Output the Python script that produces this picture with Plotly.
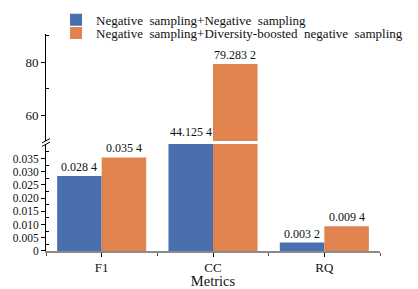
import plotly.graph_objects as go

categories = ["F1", "CC", "RQ"]
series_names = [
    "Negative\u00a0 sampling+Negative\u00a0 sampling",
    "Negative\u00a0 sampling+Diversity-boosted\u00a0 negative\u00a0 sampling",
]
series_a = [0.0284, 44.1254, 0.0032]
series_b = [0.0354, 79.2832, 0.0094]
lower_ticks = [0, 0.005, 0.010, 0.015, 0.020, 0.025, 0.030, 0.035]
lower_ticktext = ["0", "0.005", "0.010", "0.015", "0.020", "0.025", "0.030", "0.035"]
upper_ticks = [60, 80]

colors = ["#4a6fae", "#e0834f"]
FONT = "Liberation Serif"
LOW_MAX = 0.0405
UP_MIN, UP_MAX = 50.2, 90.6


def fmt(v):
    s = f"{v:.4f}"
    ip, dp = s.split(".")
    groups = [dp[i:i + 3] for i in range(0, len(dp), 3)]
    return ip + "." + " ".join(groups)


xs = list(range(len(categories)))
legend_ids = ["legend", "legend2"]
fig = go.Figure()
for k, (name, vals) in enumerate(zip(series_names, [series_a, series_b])):
    fig.add_trace(go.Bar(x=xs, y=vals, name=name, marker_color=colors[k],
                         marker_line_width=0, yaxis="y", legend=legend_ids[k],
                         offsetgroup=str(k)))
    fig.add_trace(go.Bar(x=xs, y=vals, name=name, marker_color=colors[k],
                         marker_line_width=0, yaxis="y2", legend=legend_ids[k],
                         showlegend=False, offsetgroup=str(k)))

annotations = []
for k, vals in enumerate([series_a, series_b]):
    off = -0.2 if k == 0 else 0.2
    for i, v in enumerate(vals):
        if v <= LOW_MAX:
            yref, yv = "y", v
        elif v < UP_MIN:
            yref, yv = "y2", UP_MIN
        else:
            yref, yv = "y2", v
        annotations.append(dict(x=xs[i] + off, y=yv, xref="x", yref=yref,
                                text=fmt(v), showarrow=False, yanchor="bottom",
                                yshift=0, font=dict(family=FONT, size=12, color="#111")))

low_dom = [0, 0.493]
up_dom = [0.507, 1]

shapes = []
for dy in (-0.008, 0.008):
    shapes.append(dict(type="line", xref="paper", yref="paper",
                       x0=-0.012, x1=0.012, y0=0.49 + dy, y1=0.51 + dy,
                       line=dict(color="black", width=1)))

leg_common = dict(xanchor="left", yanchor="middle", bgcolor="rgba(0,0,0,0)",
                  font=dict(family=FONT, size=13, color="#111"), itemwidth=30)

# page body has an 8px default margin, so the figure is sized to end at the window edge
fig.update_layout(
    width=410, height=281,
    margin=dict(l=38, r=38, t=26, b=38, autoexpand=False),
    plot_bgcolor="white", paper_bgcolor="white",
    font=dict(family=FONT, size=12, color="#111"),
    barmode="group", bargap=0.2, bargroupgap=0,
    legend=dict(x=0.03, y=1.066, **leg_common),
    legend2=dict(x=0.03, y=1.004, **leg_common),
    xaxis=dict(range=[-0.5, 2.5], tickvals=xs, ticktext=categories,
               showline=True, linecolor="#8a8a8a", linewidth=1.5,
               ticks="outside", ticklen=4, tickcolor="black",
               minor=dict(tick0=0.5, dtick=1, ticks="outside", ticklen=3, tickcolor="#555"),
               showgrid=False, zeroline=False,
               tickfont=dict(size=13),
               title=dict(text="Metrics", font=dict(size=14.5), standoff=5)),
    yaxis=dict(domain=low_dom, range=[0, LOW_MAX], tickvals=lower_ticks,
               ticktext=lower_ticktext, showline=True, linecolor="black",
               linewidth=1, ticks="outside", ticklen=4, tickcolor="black",
               minor=dict(tickvals=[0.0025, 0.0075, 0.0125, 0.0175, 0.0225,
                                    0.0275, 0.0325, 0.0375],
                          ticks="inside", ticklen=3, tickcolor="black"),
               showgrid=False, zeroline=False, tickfont=dict(size=11.5)),
    yaxis2=dict(domain=up_dom, range=[UP_MIN, UP_MAX], anchor="x",
                tickvals=upper_ticks, showline=True, linecolor="black",
                linewidth=1, ticks="outside", ticklen=4, tickcolor="black",
                minor=dict(tickvals=[70, 90], ticks="inside", ticklen=3,
                           tickcolor="black"),
                showgrid=False, zeroline=False, tickfont=dict(size=13)),
    annotations=annotations,
    shapes=shapes,
)

fig.write_html("out.html")
